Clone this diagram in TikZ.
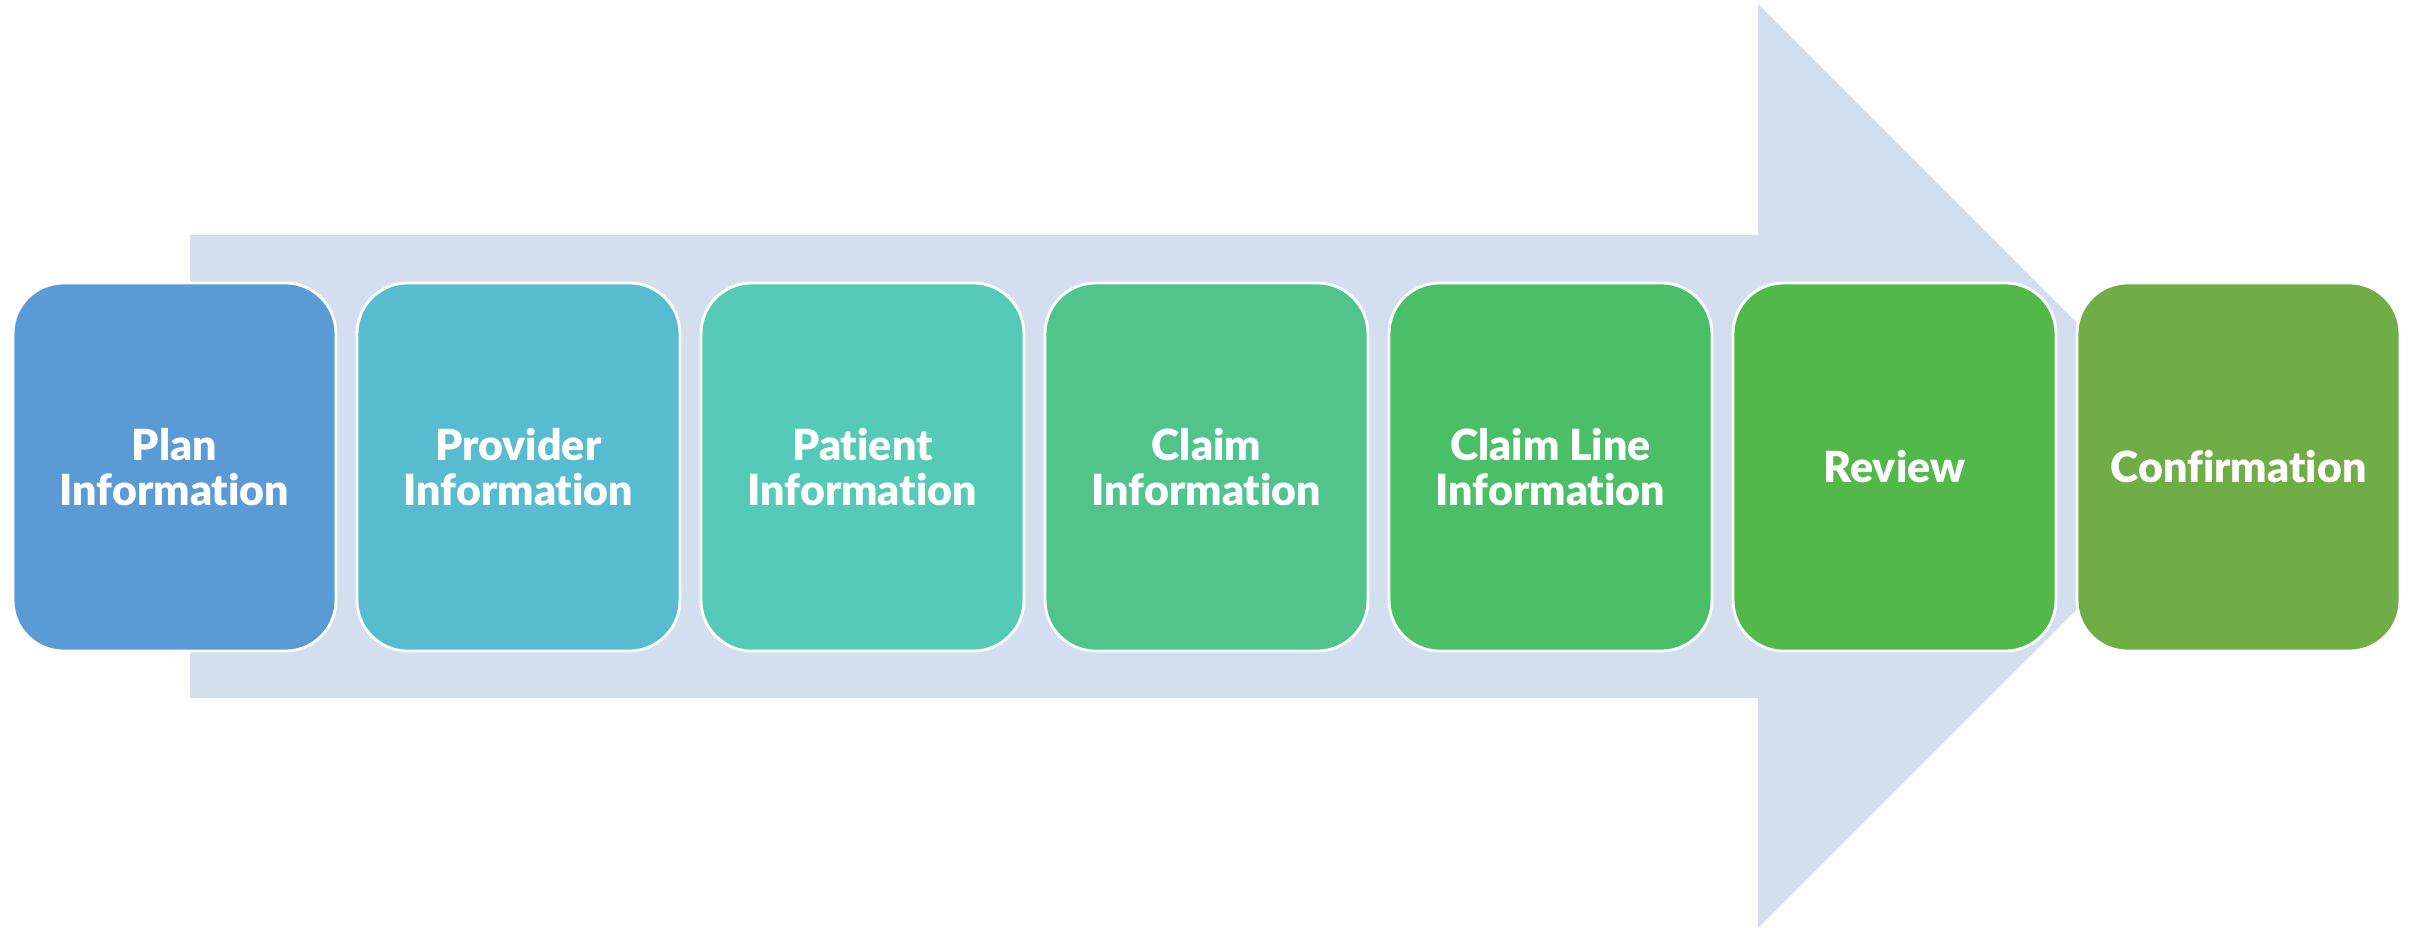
\documentclass[tikz,border=0pt]{standalone}
\usepackage{fontspec}
\setmainfont{Lato}[BoldFont={Lato Black}, Ligatures=CommonOff]
\definecolor{arrowfill}{HTML}{D3DEEF}
\definecolor{cplan}{HTML}{5B9BD5}
\definecolor{cprovider}{HTML}{58BCD0}
\definecolor{cpatient}{HTML}{54CAB7}
\definecolor{cclaim}{HTML}{50C48C}
\definecolor{cline}{HTML}{4ABF67}
\definecolor{creview}{HTML}{52B84A}
\definecolor{cconfirm}{HTML}{70AD47}
\tikzset{
  stepbox/.style={draw=white, line width=2pt, rounded corners=36pt,
    minimum width=229.7pt, minimum height=261.8pt, inner sep=0pt,
    text=white, align=center,
    font=\fontsize{30.5}{32}\selectfont\bfseries},
  bigarrow/.style={fill=arrowfill, draw=none}
}
\begin{document}
\begin{tikzpicture}[x=0.25mm, y=-0.25mm]
  \useasboundingbox (0,0) rectangle (2410,928);
  % wide background arrow
  \fill[bigarrow] (190,235) -- (1758,235) -- (1758,4) -- (2220,466)
    -- (1758,928) -- (1758,698) -- (190,698) -- cycle;
  % process steps
  \node[stepbox, fill=cplan]     (plan)     at (174.5,467)  {Plan\\Information};
  \node[stepbox, fill=cprovider] (provider) at (518.5,467)  {Provider\\Information};
  \node[stepbox, fill=cpatient]  (patient)  at (862.5,467)  {Patient\\Information};
  \node[stepbox, fill=cclaim]    (claim)    at (1206.5,467) {Claim\\Information};
  \node[stepbox, fill=cline]     (claimline) at (1550.5,467) {Claim Line\\Information};
  \node[stepbox, fill=creview]   (review)   at (1894.5,467) {Review};
  \node[stepbox, fill=cconfirm]  (confirm)  at (2238.5,467) {Confirmation};
\end{tikzpicture}
\end{document}
